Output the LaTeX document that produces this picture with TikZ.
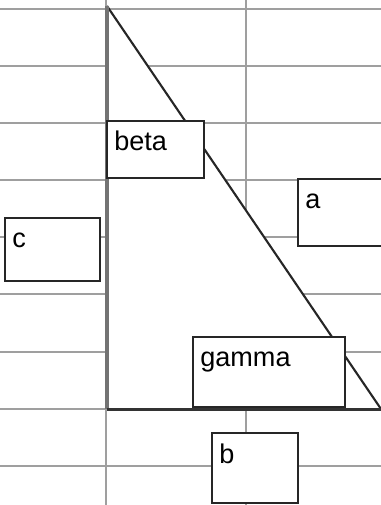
\documentclass[tikz,border=0pt]{standalone}
\usepackage{fontspec}
\setmainfont{Liberation Sans}
\tikzset{
	cell/.style={draw=gray!75, line width=1.1pt},
	box/.style={draw=black!85, fill=white, line width=1.1pt},
	lbl/.style={anchor=base west, inner sep=0pt, font=\fontsize{15.4}{18}\selectfont}
}
\begin{document}
	\begin{tikzpicture}[x=0.02cm, y=-0.02cm]
		\useasboundingbox (0,0) rectangle (381,505);
		\clip (0,0) rectangle (381,505);
		\foreach \r in {9,66,123,180,237,294,352,409,466}
			\draw[cell] (0,\r) -- (381,\r);
		\foreach \c in {106,246}
			\draw[cell] (\c,0) -- (\c,505);
		\coordinate (T) at (107,6);
		\coordinate (O) at (107,409);
		\coordinate (R) at (381,409);
		\fill[white] (T) -- (O) -- (R) -- cycle;
		\draw[-,black!85, line width=1.2pt] (T) -- (R);
		\draw[-,black!55, line width=2.2pt] (T) -- (O);
		\draw[-,black!80, line width=1.7pt] (O) -- (R);
		\draw[box] (107,121) rectangle (204,178);
		\node[lbl] (beta) at (114,150) {beta};
		\draw[box] (298,179) rectangle (390,246);
		\node[lbl] (a) at (305,208) {a};
		\draw[box] (5,218) rectangle (100,281);
		\node[lbl] (c) at (12,247) {c};
		\draw[box] (193,337) rectangle (345,407);
		\node[lbl] (gamma) at (200,366) {gamma};
		\draw[box] (212,433) rectangle (298,503);
		\node[lbl] (b) at (219,463) {b};
	\end{tikzpicture}
\end{document}
